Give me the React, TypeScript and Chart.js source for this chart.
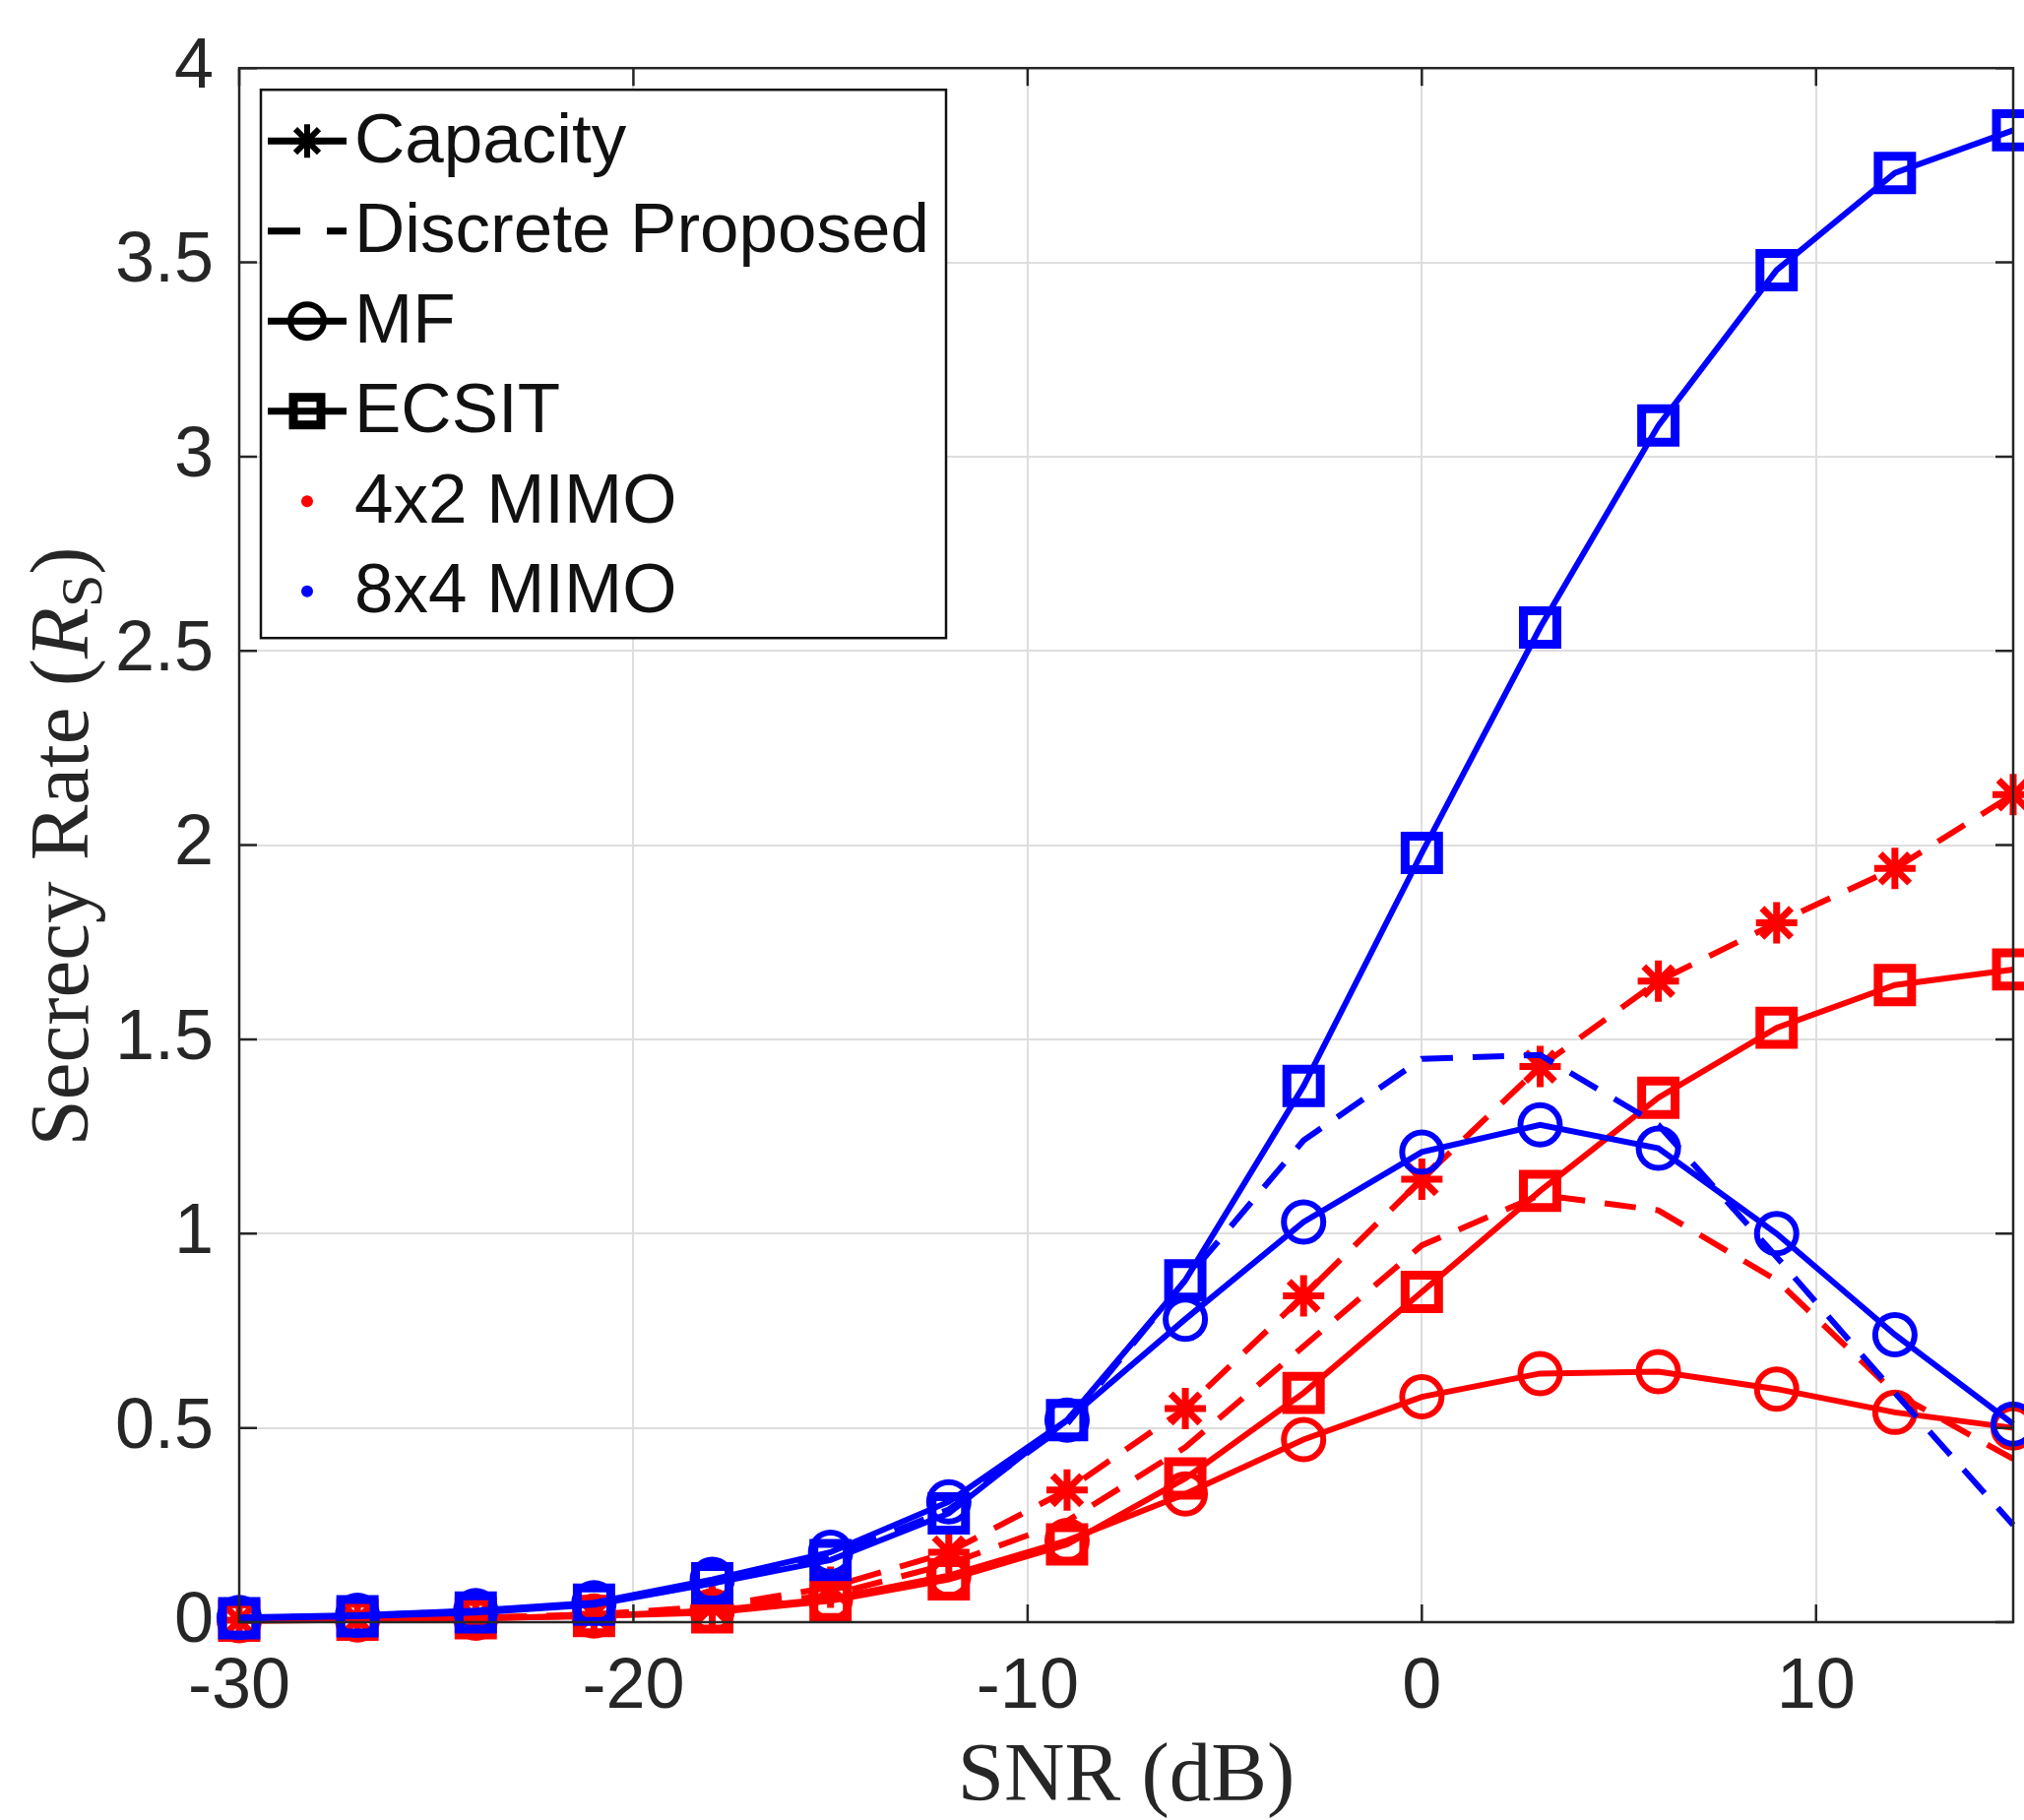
import React, { useEffect, useRef } from "react";
import { Chart, registerables } from "chart.js";

Chart.register(...registerables);

// ---------------- data ----------------
const snrDb = [-30, -27, -24, -21, -18, -15, -12, -9, -6, -3, 0, 3, 6, 9, 12, 15];
const xTickValues = [-30, -20, -10, 0, 10];
const yTickValues = [0, 0.5, 1, 1.5, 2, 2.5, 3, 3.5, 4];

// 8x4 MIMO (blue)
const blueEcsit = [0.01, 0.015, 0.025, 0.045, 0.1, 0.16, 0.28, 0.52, 0.88, 1.38, 1.98, 2.56, 3.08, 3.48, 3.73, 3.84];
const blueMf = [0.012, 0.018, 0.03, 0.05, 0.11, 0.18, 0.31, 0.52, 0.78, 1.03, 1.21, 1.28, 1.22, 1.0, 0.74, 0.51];
const blueDiscrete = [0.01, 0.017, 0.028, 0.048, 0.1, 0.17, 0.29, 0.51, 0.88, 1.24, 1.45, 1.46, 1.28, 0.94, 0.59, 0.25];

// 4x2 MIMO (red)
const redCapacity = [0.005, 0.008, 0.012, 0.02, 0.04, 0.09, 0.18, 0.34, 0.55, 0.84, 1.14, 1.43, 1.65, 1.8, 1.94, 2.13];
const redDiscrete = [0.005, 0.007, 0.01, 0.018, 0.035, 0.07, 0.15, 0.26, 0.45, 0.71, 0.97, 1.1, 1.06, 0.88, 0.59, 0.42];
const redMf = [0.004, 0.006, 0.01, 0.016, 0.03, 0.06, 0.12, 0.21, 0.33, 0.47, 0.58, 0.64, 0.645, 0.6, 0.54, 0.5];
const redEcsit = [0.004, 0.006, 0.01, 0.016, 0.025, 0.055, 0.11, 0.2, 0.37, 0.59, 0.85, 1.11, 1.35, 1.53, 1.64, 1.68];

const legendLabels = ["Capacity", "Discrete Proposed", "MF", "ECSIT", "4x2 MIMO", "8x4 MIMO"];
const xTitle = "SNR (dB)";
const yTitleMain = "Secrecy Rate (";
const yTitleVar = "R";
const yTitleSub = "S";
const yTitleEnd = ")";

// ---------------- styling ----------------
const BLUE = "#0000ff";
const RED = "#ff0000";
const SANS = '"Liberation Sans", Arial, Helvetica, sans-serif';
const SERIF = '"Liberation Serif", "Times New Roman", serif';
const DASH = [32, 20];

type Marker = "star" | "circle" | "rect" | null;

function makeSet(label: string, values: number[], color: string, dashed: boolean, marker: Marker) {
  const radius = marker === "rect" ? 24 : marker === "circle" ? 20 : marker === "star" ? 21 : 0;
  const pbw = marker === "rect" ? 9 : marker === "circle" ? 6 : 7;
  return {
    label,
    data: snrDb.map((x, i) => ({ x, y: values[i] })),
    borderColor: color,
    backgroundColor: "transparent",
    borderWidth: 6,
    borderDash: dashed ? DASH : [],
    pointStyle: marker || "circle",
    pointRadius: radius,
    pointHoverRadius: radius,
    pointBorderWidth: pbw,
    pointBorderColor: color,
    pointBackgroundColor: "transparent",
    tension: 0,
    clip: false as any,
  };
}

function drawLegendMarker(ctx: CanvasRenderingContext2D, kind: string, x: number, y: number) {
  ctx.save();
  ctx.strokeStyle = "#000";
  ctx.fillStyle = "#000";
  if (kind === "star") {
    ctx.lineWidth = 6;
    const r = 17;
    ctx.beginPath();
    for (let k = 0; k < 4; k++) {
      const ang = (k * Math.PI) / 4;
      ctx.moveTo(x - Math.cos(ang) * r, y - Math.sin(ang) * r);
      ctx.lineTo(x + Math.cos(ang) * r, y + Math.sin(ang) * r);
    }
    ctx.stroke();
  } else if (kind === "circle") {
    ctx.lineWidth = 6;
    ctx.beginPath();
    ctx.arc(x, y, 17, 0, Math.PI * 2);
    ctx.stroke();
  } else if (kind === "rect") {
    ctx.lineWidth = 9;
    ctx.strokeRect(x - 14, y - 14, 28, 28);
  }
  ctx.restore();
}

const legendKinds = [
  { line: "solid", marker: "star" },
  { line: "dashed", marker: "" },
  { line: "solid", marker: "circle" },
  { line: "solid", marker: "rect" },
  { line: "dot", marker: RED },
  { line: "dot", marker: BLUE },
];

const decorPlugin = {
  id: "decor",
  afterDraw(chart: any) {
    const { ctx, chartArea: a } = chart;
    const xs = chart.scales.x;
    const ys = chart.scales.y;
    ctx.save();

    // axes box
    ctx.strokeStyle = "#262626";
    ctx.lineWidth = 2.5;
    ctx.strokeRect(a.left, a.top, a.right - a.left, a.bottom - a.top);

    // inward ticks
    const tl = 18;
    ctx.beginPath();
    xTickValues.forEach((v) => {
      const px = xs.getPixelForValue(v);
      ctx.moveTo(px, a.bottom);
      ctx.lineTo(px, a.bottom - tl);
      ctx.moveTo(px, a.top);
      ctx.lineTo(px, a.top + tl);
    });
    yTickValues.forEach((v) => {
      const py = ys.getPixelForValue(v);
      ctx.moveTo(a.left, py);
      ctx.lineTo(a.left + tl, py);
      ctx.moveTo(a.right, py);
      ctx.lineTo(a.right - tl, py);
    });
    ctx.stroke();

    // legend
    const lx = a.left + 22;
    const ly = a.top + 22;
    const lw = 696;
    const lh = 557;
    ctx.fillStyle = "#ffffff";
    ctx.fillRect(lx, ly, lw, lh);
    ctx.strokeStyle = "#111";
    ctx.lineWidth = 2.5;
    ctx.strokeRect(lx, ly, lw, lh);

    legendLabels.forEach((label, i) => {
      const cy = ly + 52 + i * 91.5;
      const kind = legendKinds[i];
      const x0 = lx + 7;
      const x1 = lx + 87;
      const mx = lx + 47;
      if (kind.line === "solid" || kind.line === "dashed") {
        ctx.save();
        ctx.strokeStyle = "#000";
        ctx.lineWidth = 7;
        ctx.setLineDash(kind.line === "dashed" ? [33, 27] : []);
        ctx.beginPath();
        ctx.moveTo(x0, cy);
        ctx.lineTo(x1, cy);
        ctx.stroke();
        ctx.restore();
        if (kind.marker) drawLegendMarker(ctx, kind.marker, mx, cy);
      } else {
        ctx.fillStyle = kind.marker;
        ctx.beginPath();
        ctx.arc(mx, cy, 6, 0, Math.PI * 2);
        ctx.fill();
      }
      ctx.fillStyle = "#111";
      ctx.font = `71px ${SANS}`;
      ctx.textAlign = "left";
      ctx.textBaseline = "middle";
      ctx.fillText(label, lx + 95, cy + 2);
    });

    // x title
    ctx.fillStyle = "#262626";
    ctx.font = `85px ${SERIF}`;
    ctx.textAlign = "center";
    ctx.textBaseline = "alphabetic";
    ctx.fillText(xTitle, (a.left + a.right) / 2, 1829);

    // y title (rotated, with italic R and subscript S)
    const size = 85;
    const subSize = 60;
    const parts = [
      { t: yTitleMain, font: `${size}px ${SERIF}`, dy: 0 },
      { t: yTitleVar, font: `italic ${size}px ${SERIF}`, dy: 0 },
      { t: yTitleSub, font: `${subSize}px ${SERIF}`, dy: 14 },
      { t: yTitleEnd, font: `${size}px ${SERIF}`, dy: 0 },
    ];
    let total = 0;
    const widths = parts.map((p) => {
      ctx.font = p.font;
      const w = ctx.measureText(p.t).width;
      total += w;
      return w;
    });
    ctx.save();
    ctx.translate(89, 860);
    ctx.rotate(-Math.PI / 2);
    ctx.textAlign = "left";
    ctx.textBaseline = "alphabetic";
    let cx = -total / 2;
    parts.forEach((p, i) => {
      ctx.font = p.font;
      ctx.fillText(p.t, cx, p.dy);
      cx += widths[i];
    });
    ctx.restore();

    ctx.restore();
  },
};

export default function App() {
  const canvasRef = useRef<HTMLCanvasElement | null>(null);

  useEffect(() => {
    const canvas = canvasRef.current;
    if (!canvas) return;
    const chart = new Chart(canvas, {
      type: "line",
      data: {
        datasets: [
          makeSet("8x4 ECSIT", blueEcsit, BLUE, false, "rect"),
          makeSet("8x4 MF", blueMf, BLUE, false, "circle"),
          makeSet("8x4 Discrete Proposed", blueDiscrete, BLUE, true, null),
          makeSet("4x2 Capacity", redCapacity, RED, true, "star"),
          makeSet("4x2 Discrete Proposed", redDiscrete, RED, true, null),
          makeSet("4x2 MF", redMf, RED, false, "circle"),
          makeSet("4x2 ECSIT", redEcsit, RED, false, "rect"),
        ] as any,
      },
      options: {
        responsive: false,
        animation: false,
        devicePixelRatio: 1,
        layout: { autoPadding: false, padding: { left: 0, right: 11, top: 63, bottom: 0 } },
        plugins: {
          legend: { display: false },
          tooltip: { enabled: false },
          title: { display: false },
        },
        scales: {
          x: {
            type: "linear",
            min: -30,
            max: 15,
            afterBuildTicks: (scale: any) => {
              scale.ticks = xTickValues.map((v) => ({ value: v }));
            },
            afterFit: (scale: any) => {
              scale.height = 201;
              scale.paddingLeft = 0;
              scale.paddingRight = 0;
            },
            grid: { color: "#dedede", lineWidth: 2, drawTicks: false },
            border: { display: false },
            ticks: {
              font: { family: SANS, size: 72 },
              color: "#262626",
              padding: 24,
              maxRotation: 0,
              autoSkip: false,
              callback: (v: any) => String(v),
            },
          },
          y: {
            type: "linear",
            min: 0,
            max: 4,
            afterBuildTicks: (scale: any) => {
              scale.ticks = yTickValues.map((v) => ({ value: v }));
            },
            afterFit: (scale: any) => {
              scale.width = 243;
            },
            grid: { color: "#dedede", lineWidth: 2, drawTicks: false },
            border: { display: false },
            ticks: {
              font: { family: SANS, size: 72 },
              color: "#262626",
              padding: 26,
              autoSkip: false,
              callback: (v: any) => String(v),
            },
          },
        },
      } as any,
      plugins: [decorPlugin],
    });
    return () => chart.destroy();
  }, []);

  return (
    <div style={{ position: "fixed", left: 0, top: 0, width: 2056, height: 1849, background: "#fff" }}>
      <canvas ref={canvasRef} width={2056} height={1849} style={{ display: "block", width: 2056, height: 1849 }} />
    </div>
  );
}
